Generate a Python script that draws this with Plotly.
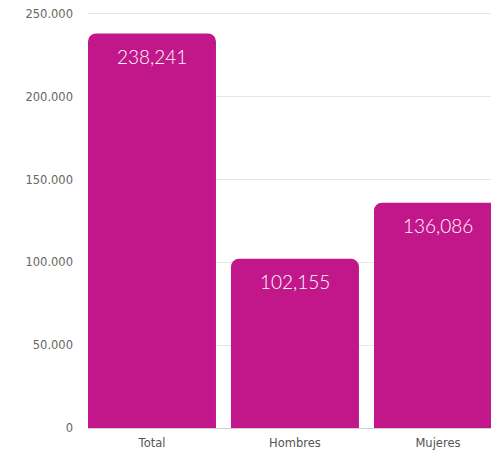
import plotly.graph_objects as go

categorias = ["Total", "Hombres", "Mujeres"]
valores = [238241, 102155, 136086]
y_ticks = [0, 50000, 100000, 150000, 200000, 250000]
y_ticktext = ["0", "50.000", "100.000", "150.000", "200.000", "250.000"]

color_barra = "#C1178A"

fig = go.Figure()
fig.add_trace(go.Bar(x=categorias, y=valores, marker_color=color_barra,
                     marker_line_width=0, hoverinfo="skip"))

# etiquetas de valor dentro de cada barra
for c, v in zip(categorias, valores):
    fig.add_annotation(x=c, y=v, text=f"{v:,}", showarrow=False, yanchor="middle",
                       yshift=-23, font=dict(family="Lato", size=19, color="white", weight=300))

fig.update_layout(
    width=491, height=458,
    margin=dict(l=88, r=0, t=11, b=30),
    plot_bgcolor="white", paper_bgcolor="white",
    bargap=0.105, barcornerradius=8,
    showlegend=False,
    font=dict(family="DejaVu Sans", color="#555555"),
)
fig.update_xaxes(range=[-0.4475, 2.371], showline=True, linecolor="#cfcfcf", linewidth=1,
                 ticks="", tickfont=dict(size=11.5, color="#555555"), ticklabelstandoff=4)
fig.update_yaxes(range=[0, 251800], tickvals=y_ticks, ticktext=y_ticktext,
                 showgrid=True, gridcolor="#e6e6e6", gridwidth=1, zeroline=False,
                 ticks="", tickfont=dict(size=11.5, color="#666666"), ticklabelstandoff=14)

# sin margen en la página para que la figura ocupe toda la ventana
fig.write_html("out.html", config={"displayModeBar": False},
               post_script="document.body.style.margin='0';document.body.style.overflow='hidden';")
